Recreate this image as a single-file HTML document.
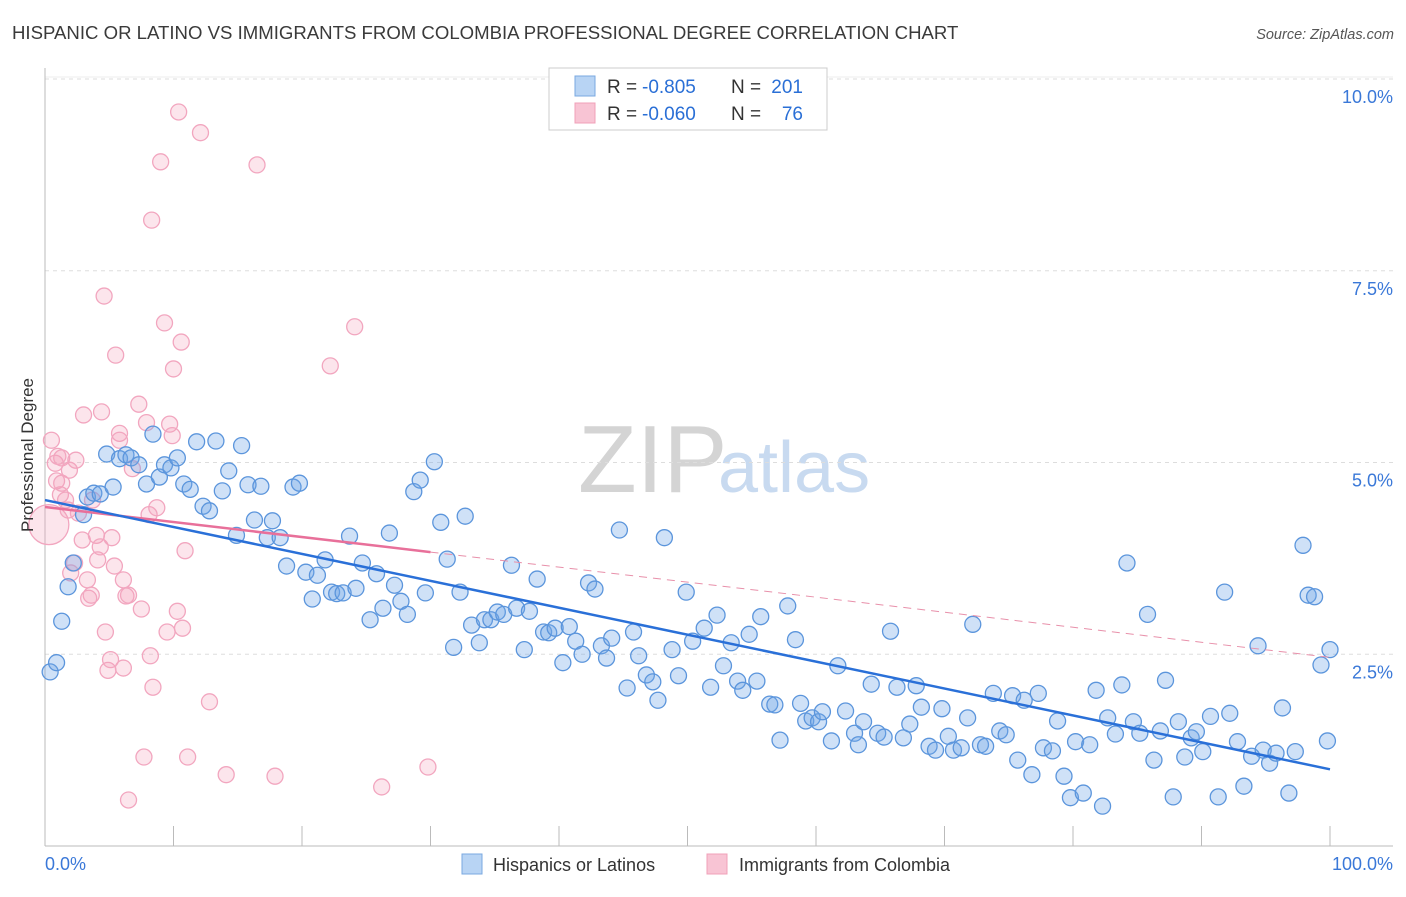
<!DOCTYPE html>
<html><head><meta charset="utf-8">
<style>
body{margin:0;background:#fff;font-family:"Liberation Sans",sans-serif;}
svg text{font-family:"Liberation Sans",sans-serif;}
</style></head>
<body>
<svg width="1406" height="892" viewBox="0 0 1406 892">
<text x="12" y="39" font-size="18.6" fill="#3a3a3a">HISPANIC OR LATINO VS IMMIGRANTS FROM COLOMBIA PROFESSIONAL DEGREE CORRELATION CHART</text>
<text x="1394" y="39" font-size="14.5" fill="#555" font-style="italic" text-anchor="end">Source: ZipAtlas.com</text>
<text x="578" y="492" font-size="96" fill="#d4d4d4" font-family="Liberation Serif">ZIP</text>
<text x="718" y="492" font-size="72" fill="#c8daf0">atlas</text>
<g id="grid"></g>
<g id="axes"></g>
<g id="pink"></g>
<g id="blue"></g>
<g id="trends"></g>
<text x="33" y="455" font-size="17" fill="#333" text-anchor="middle" transform="rotate(-90 33 455)">Professional Degree</text>
<g>
<rect x="549" y="68" width="278" height="62" fill="#fff" stroke="#ccc"/>
<rect x="575" y="76" width="20" height="20" fill="#b8d4f4" stroke="#7aa8e0"/>
<rect x="575" y="103" width="20" height="20" fill="#f8c4d4" stroke="#f0a0b8"/>
<text x="607" y="93" font-size="19" fill="#333">R =</text>
<text x="642" y="93" font-size="19" fill="#2a6fd6">-0.805</text>
<text x="731" y="93" font-size="19" fill="#333">N =</text>
<text x="803" y="93" font-size="19" fill="#2a6fd6" text-anchor="end">201</text>
<text x="607" y="120" font-size="19" fill="#333">R =</text>
<text x="642" y="120" font-size="19" fill="#2a6fd6">-0.060</text>
<text x="731" y="120" font-size="19" fill="#333">N =</text>
<text x="803" y="120" font-size="19" fill="#2a6fd6" text-anchor="end">76</text>
</g>
<g>
<rect x="462" y="854" width="20" height="20" fill="#b8d4f4" stroke="#7aa8e0"/>
<text x="493" y="871" font-size="18" fill="#333">Hispanics or Latinos</text>
<rect x="707" y="854" width="20" height="20" fill="#f8c4d4" stroke="#f0a0b8"/>
<text x="739" y="871" font-size="18" fill="#333">Immigrants from Colombia</text>
</g>
</svg>
<script>
const yTicks=[2.5,5.0,7.5,10.0];
const xTickVals=[0,10,20,30,40,50,60,70,80,90,100];
const xLabels=["0.0%","100.0%"];
const blueX=[0.4,0.9,1.3,1.8,2.2,3.0,3.3,3.8,4.3,4.8,5.3,5.8,6.3,6.7,7.3,7.9,8.4,8.9,9.3,9.8,10.3,10.8,11.3,11.8,12.3,12.8,13.3,13.8,14.3,14.9,15.3,15.8,16.3,16.8,17.3,17.7,18.3,18.8,19.3,19.8,20.3,20.8,21.2,21.8,22.3,22.7,23.2,23.7,24.2,24.7,25.3,25.8,26.3,26.8,27.2,27.7,28.2,28.7,29.2,29.6,30.3,30.8,31.3,31.8,32.3,32.7,33.2,33.8,34.2,34.7,35.2,35.7,36.3,36.7,37.3,37.7,38.3,38.8,39.2,39.7,40.3,40.8,41.3,41.8,42.3,42.8,43.3,43.7,44.1,44.7,45.3,45.8,46.2,46.8,47.3,47.7,48.2,48.8,49.3,49.9,50.4,51.3,51.8,52.3,52.8,53.4,53.9,54.3,54.8,55.4,55.7,56.4,56.8,57.2,57.8,58.4,58.8,59.2,59.7,60.2,60.5,61.2,61.7,62.3,63.0,63.3,63.7,64.3,64.8,65.3,65.8,66.3,66.8,67.3,67.8,68.2,68.8,69.3,69.8,70.3,70.7,71.3,71.8,72.2,72.8,73.2,73.8,74.3,74.8,75.3,75.7,76.2,76.8,77.3,77.7,78.4,78.8,79.3,79.8,80.2,80.8,81.3,81.8,82.3,82.7,83.3,83.8,84.2,84.7,85.2,85.8,86.3,86.8,87.2,87.8,88.2,88.7,89.2,89.6,90.1,90.7,91.3,91.8,92.2,92.8,93.3,93.9,94.4,94.8,95.3,95.8,96.3,96.8,97.3,97.9,98.3,98.8,99.3,99.8,100];
const blueY=[2.27,2.39,2.93,3.38,3.69,4.32,4.55,4.60,4.59,5.11,4.68,5.05,5.10,5.06,4.97,4.72,5.37,4.81,4.97,4.93,5.06,4.72,4.65,5.27,4.43,4.37,5.28,4.63,4.89,4.05,5.22,4.71,4.25,4.69,4.02,4.24,4.02,3.65,4.68,4.73,3.57,3.22,3.53,3.73,3.31,3.29,3.30,4.04,3.36,3.69,2.95,3.55,3.10,4.08,3.40,3.19,3.02,4.62,4.77,3.30,5.01,4.22,3.74,2.59,3.31,4.30,2.88,2.65,2.95,2.95,3.05,3.02,3.66,3.10,2.56,3.06,3.48,2.79,2.78,2.84,2.39,2.86,2.67,2.50,3.43,3.35,2.61,2.45,2.71,4.12,2.06,2.79,2.48,2.23,2.14,1.90,4.02,2.56,2.22,3.31,2.67,2.84,2.07,3.01,2.35,2.65,2.15,2.03,2.76,2.15,2.99,1.85,1.84,1.38,3.13,2.69,1.86,1.63,1.67,1.62,1.75,1.37,2.35,1.76,1.47,1.32,1.62,2.11,1.47,1.42,2.80,2.07,1.41,1.59,2.09,1.81,1.30,1.25,1.79,1.43,1.25,1.28,1.67,2.89,1.32,1.30,1.99,1.50,1.45,1.96,1.12,1.90,0.93,1.99,1.28,1.24,1.63,0.91,0.63,1.36,0.69,1.32,2.03,0.52,1.67,1.46,2.10,3.69,1.62,1.47,3.02,1.12,1.50,2.16,0.64,1.62,1.16,1.41,1.49,1.23,1.69,0.64,3.31,1.73,1.36,0.78,1.17,2.61,1.25,1.08,1.21,1.80,0.69,1.23,3.92,3.27,3.25,2.36,1.37,2.56];
const pinkX=[0.3,0.5,0.8,0.9,1.2,1.3,1.6,1.8,2.0,2.3,2.4,2.6,2.9,3.0,3.3,3.4,3.6,4.0,4.1,4.3,4.4,4.6,4.7,4.9,5.1,5.2,5.4,5.5,5.8,6.1,6.1,6.3,6.5,6.8,7.3,7.5,7.7,7.9,8.1,8.2,8.4,8.3,8.7,9.0,9.3,9.5,9.7,9.9,10.0,10.3,10.4,10.6,10.7,10.9,11.1,12.1,12.8,14.1,16.5,17.9,22.2,24.1,26.2,6.5,29.8,1.0,1.3,1.9,3.7,5.8];
const pinkY=[4.19,5.29,4.99,4.76,4.58,5.06,4.51,4.38,3.56,3.69,5.03,4.34,3.99,5.62,3.47,3.23,3.27,4.05,3.73,3.90,5.66,7.17,2.79,2.29,2.43,4.02,3.65,6.40,5.38,3.47,2.32,3.26,3.27,4.92,5.76,3.09,1.16,5.52,4.32,2.48,2.07,8.16,4.41,8.92,6.82,2.79,5.50,5.35,6.22,3.06,9.57,6.57,2.84,3.85,1.16,9.30,1.88,0.93,8.88,0.91,6.26,6.77,0.77,0.60,1.03,5.08,4.73,4.90,4.51,5.29];
const blueTrend=[4.51,1.00];
const pinkTrend=[4.42,2.46];
const pinkSolidEnd=30;

const X0=45,X1=1330,Y0=846,PX=76.7;
const sx=v=>X0+(X1-X0)*v/100;
const sy=v=>Y0-PX*v;
const NS="http://www.w3.org/2000/svg";
function mk(tag,attrs,parent){const e=document.createElementNS(NS,tag);for(const k in attrs)e.setAttribute(k,attrs[k]);parent.appendChild(e);return e;}
const grid=document.getElementById('grid'),axes=document.getElementById('axes');
yTicks.forEach(t=>{
 const l=mk('line',{x1:X0,x2:1393,y1:sy(t),y2:sy(t),stroke:'#ddd','stroke-dasharray':'4,4'},grid);
 
 
 const tx=mk('text',{x:1393,y:sy(t)+24,'font-size':18,fill:'#3a78d8','text-anchor':'end'},axes);
 tx.textContent=t.toFixed(1)+'%';
 
 
});
mk('line',{x1:X0,x2:1393,y1:sy(10)-2,y2:sy(10)-2,stroke:'#eee'},grid);
mk('line',{x1:X0,x2:X0,y1:68,y2:Y0,stroke:'#bbb'},axes);
mk('line',{x1:X0,x2:1393,y1:Y0,y2:Y0,stroke:'#bbb'},axes);
xTickVals.forEach(t=>{
 const l=mk('line',{x1:sx(t),x2:sx(t),y1:Y0-20,y2:Y0,stroke:'#bbb'},axes);
 
 
});
const xl0=mk('text',{x:X0,y:870,'font-size':18,fill:'#3a78d8'},axes);
xl0.textContent=xLabels[0];


const xl1=mk('text',{x:1393,y:870,'font-size':18,fill:'#3a78d8','text-anchor':'end'},axes);
xl1.textContent=xLabels[1];



const pg=document.getElementById('pink');
pinkX.forEach((x,i)=>{
 const r=i===0?20:8;
 const c=mk('circle',{cx:sx(x),cy:sy(pinkY[i]),r:r,fill:'rgba(244,160,188,0.28)',stroke:'#f2a6bf','stroke-width':1.3},pg);
 
 
});
const bg=document.getElementById('blue');
blueX.forEach((x,i)=>{
 const c=mk('circle',{cx:sx(x),cy:sy(blueY[i]),r:8,fill:'rgba(110,165,232,0.33)',stroke:'#5b95dc','stroke-width':1.3},bg);
 
 
});
const tg=document.getElementById('trends');
const pAt=v=>pinkTrend[0]+(pinkTrend[1]-pinkTrend[0])*v/100;
const pd=mk('line',{x1:sx(pinkSolidEnd),y1:sy(pAt(pinkSolidEnd)),x2:sx(100),y2:sy(pinkTrend[1]),stroke:'#e890aa','stroke-width':1,'stroke-dasharray':'8,6'},tg);


const ps=mk('line',{x1:sx(0),y1:sy(pinkTrend[0]),x2:sx(pinkSolidEnd),y2:sy(pAt(pinkSolidEnd)),stroke:'#e8709a','stroke-width':2.5},tg);


const bl=mk('line',{x1:sx(0),y1:sy(blueTrend[0]),x2:sx(100),y2:sy(blueTrend[1]),stroke:'#2a70d8','stroke-width':2.5},tg);


</script>
</body></html>
